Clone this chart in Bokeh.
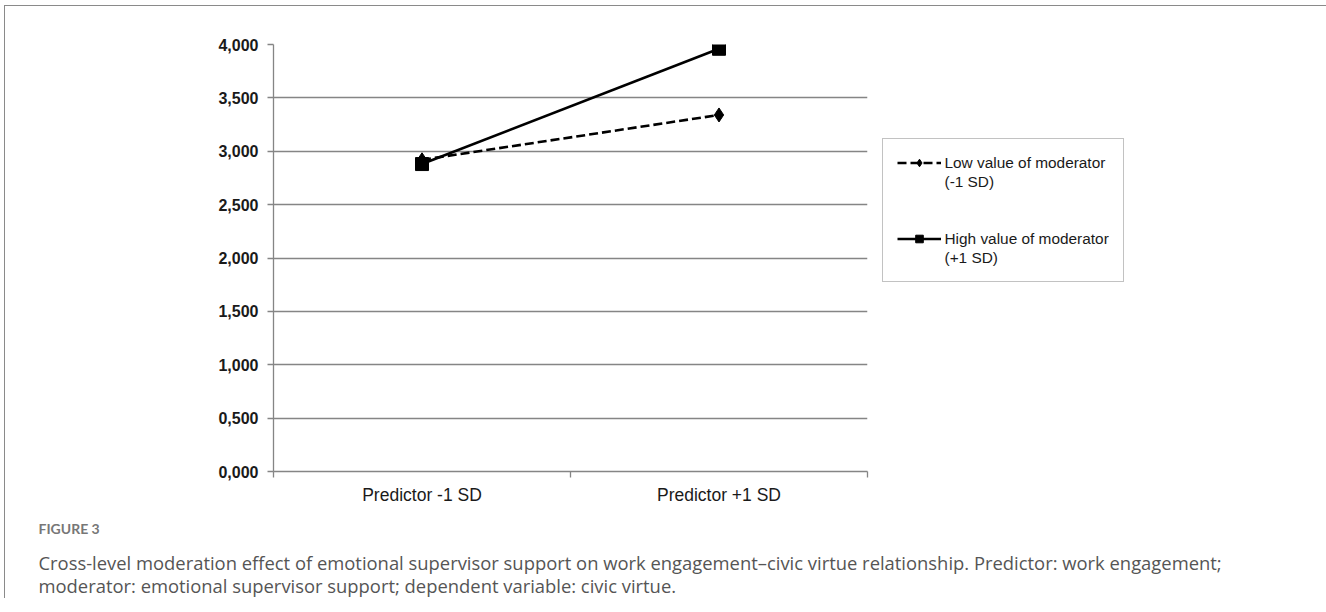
from bokeh.plotting import figure
from bokeh.models import (FactorRange, Range1d, LinearAxis, CategoricalAxis, FixedTicker,
                          CustomJSTickFormatter, Legend, LegendItem, Title)
from bokeh.embed import file_html
from bokeh.resources import INLINE

# ---------------- data ----------------
categories = ["Predictor -1 SD", "Predictor +1 SD"]
low_values = [2.92, 3.34]    # Low value of moderator (-1 SD)
high_values = [2.88, 3.96]   # High value of moderator (+1 SD)
y_ticks = [0.0, 0.5, 1.0, 1.5, 2.0, 2.5, 3.0, 3.5, 4.0]
series_names = ["Low value of moderator", "High value of moderator"]
series_notes = ["(-1 SD)", "(+1 SD)"]
caption_title = "FIGURE 3"
caption_lines = [
    "Cross-level moderation effect of emotional supervisor support on work engagement\u2013civic virtue relationship. Predictor: work engagement;",
    "moderator: emotional supervisor support; dependent variable: civic virtue.",
]

# ---------------- layout ----------------
OX, OY = 5.5, 6.5          # canvas origin on the page (after css margin + border)
FL, FT, FW, FH = 268, 38, 594, 427
GRAY = "#858585"
INK = "#1a1a1a"
CHART_FONT = "Liberation Sans"
LEG_PAD = 14
LEG_ROW = 19

p = figure(frame_width=FW, frame_height=FH,
           x_range=FactorRange(*categories), y_range=Range1d(0, 4),
           x_axis_location=None, y_axis_location="left",
           output_backend="svg", toolbar_location=None,
           min_border_left=FL, min_border_top=FT,
           min_border_right=216, min_border_bottom=20)
p.styles = {"margin-left": "4px", "margin-top": "5px",
            "border-left": "1.5px solid #8a8a8a", "border-top": "1.5px solid #8a8a8a"}
p.outline_line_color = None
p.background_fill_color = "white"
p.border_fill_color = "white"
p.xgrid.visible = False

# y axis
p.yaxis.ticker = FixedTicker(ticks=y_ticks)
p.yaxis.formatter = CustomJSTickFormatter(code="return tick.toFixed(3).replace('.', ',');")
p.yaxis.major_label_text_font = CHART_FONT
p.yaxis.major_label_text_font_style = "bold"
p.yaxis.major_label_text_font_size = "16px"
p.yaxis.major_label_text_color = INK
p.yaxis.major_label_standoff = 9
p.yaxis.axis_line_color = GRAY
p.yaxis.axis_line_width = 1.3
p.yaxis.major_tick_line_color = GRAY
p.yaxis.major_tick_line_width = 1.3
p.yaxis.major_tick_out = 6
p.yaxis.major_tick_in = 0
p.yaxis.minor_tick_line_color = None

p.ygrid.ticker = FixedTicker(ticks=y_ticks)
p.ygrid.grid_line_color = GRAY
p.ygrid.grid_line_width = 1.3

# x axis: boundary ticks between categories (nearest) + category labels
edge_axis = LinearAxis(ticker=FixedTicker(ticks=list(range(len(categories) + 1))))
edge_axis.major_label_text_font_size = "0px"
edge_axis.major_label_standoff = 0
edge_axis.axis_line_color = GRAY
edge_axis.axis_line_width = 1.3
edge_axis.major_tick_line_color = GRAY
edge_axis.major_tick_line_width = 1.3
edge_axis.major_tick_out = 6
edge_axis.major_tick_in = 0
edge_axis.minor_tick_line_color = None
p.add_layout(edge_axis, "below")

cat_axis = CategoricalAxis()
cat_axis.axis_line_color = None
cat_axis.major_tick_line_color = None
cat_axis.major_tick_out = 0
cat_axis.major_label_standoff = 7
cat_axis.major_label_text_font = CHART_FONT
cat_axis.major_label_text_font_size = "17.5px"
cat_axis.major_label_text_color = INK
p.add_layout(cat_axis, "below")

# caption as titles below the chart
t1 = Title(text=caption_title, align="left", offset=38 - 273, standoff=21,
           text_font="Lato", text_font_style="bold", text_font_size="14px", text_color="#777777")
p.add_layout(t1, "below")
t2 = Title(text="\n".join(caption_lines), align="left", offset=38 - 273, standoff=1,
           text_font="Open Sans", text_font_style="normal", text_font_size="18.4px",
           text_color="#555555", text_line_height=0.92)
p.add_layout(t2, "below")

# series
low_line = p.line(x=categories, y=low_values, line_color="black", line_width=2.6, line_dash="9 4")
low_pts = p.scatter(x=categories, y=low_values, marker="diamond", size=14,
                    fill_color="black", line_color="black")
high_line = p.line(x=categories, y=high_values, line_color="black", line_width=2.6)
high_pts = p.scatter(x=categories, y=high_values, marker="square", size=13,
                     fill_color="black", line_color="black")

legend = Legend(items=[
    LegendItem(label=series_names[0], renderers=[low_line, low_pts]),
    LegendItem(label=series_notes[0], renderers=[]),
    LegendItem(label=" ", renderers=[]),
    LegendItem(label=" ", renderers=[]),
    LegendItem(label=series_names[1], renderers=[high_line, high_pts]),
    LegendItem(label=series_notes[1], renderers=[]),
], location=(896 - LEG_PAD - (OX + FL + FW), 189))
legend.border_line_color = GRAY
legend.border_line_width = 1.3
legend.background_fill_color = "white"
legend.background_fill_alpha = 1
legend.padding = LEG_PAD
legend.margin = 0
legend.spacing = 0
legend.glyph_width = 44
legend.glyph_height = LEG_ROW
legend.label_height = LEG_ROW
legend.label_standoff = 4
legend.label_text_font = CHART_FONT
legend.label_text_font_size = "15.4px"
legend.label_text_color = INK
p.add_layout(legend, "right")

open("out.html", "w").write(file_html(p, INLINE))
